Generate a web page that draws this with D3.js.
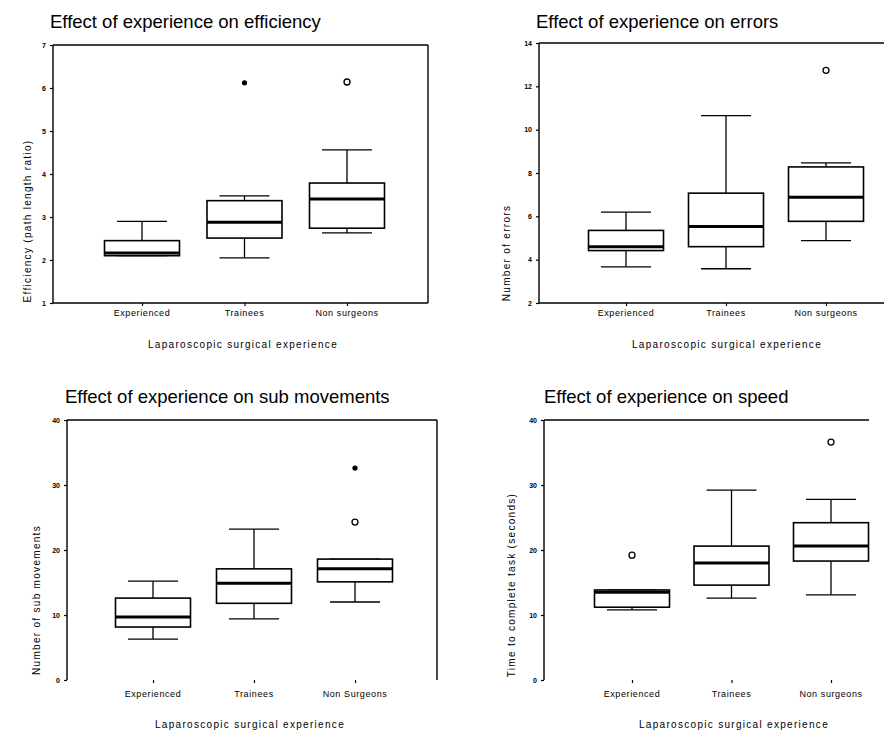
<!DOCTYPE html>
<html>
<head>
<meta charset="utf-8">
<script src="https://cdn.jsdelivr.net/npm/d3@7"></script>
<style>
  body { margin: 0; background: #fff; }
  text { font-family: "Liberation Sans", Arial, sans-serif; fill: #000; }
  .title { font-size: 18.5px; }
  .axis-title { font-size: 10px; letter-spacing: 1.3px; }
  .cat-label { font-size: 9px; letter-spacing: 0.6px; }
  .tick text { font-size: 7px; font-weight: 700; }
</style>
</head>
<body>
<script>
const categories = ['Experienced', 'Trainees', 'Non surgeons'];
const categoriesSub = ['Experienced', 'Trainees', 'Non Surgeons'];

// [lower whisker, q1, median, q3, upper whisker] per category
const efficiencyBoxes = [[2.1, 2.1, 2.16, 2.45, 2.9], [2.05, 2.51, 2.88, 3.38, 3.49], [2.63, 2.74, 3.42, 3.79, 4.56]];
const errorsBoxes = [[3.67, 4.42, 4.6, 5.35, 6.19], [3.58, 4.6, 5.53, 7.07, 10.65], [4.88, 5.77, 6.88, 8.28, 8.47]];
const subBoxes = [[6.3, 8.15, 9.7, 12.6, 15.2], [9.4, 11.8, 14.9, 17.1, 23.2], [12.0, 15.1, 17.1, 18.6, 18.6]];
const speedBoxes = [[10.8, 11.2, 13.5, 13.85, 13.85], [12.6, 14.6, 18.0, 20.6, 29.2], [13.1, 18.3, 20.6, 24.2, 27.8]];

// outliers: category index, value, kind ('o' outlier, '*' extreme)
const efficiencyOutliers = [{ cat: 1, value: 6.12, kind: '*' }, { cat: 2, value: 6.14, kind: 'o' }];
const errorsOutliers = [{ cat: 2, value: 12.74, kind: 'o' }];
const subOutliers = [{ cat: 2, value: 24.3, kind: 'o' }, { cat: 2, value: 32.6, kind: '*' }];
const speedOutliers = [{ cat: 0, value: 19.2, kind: 'o' }, { cat: 2, value: 36.6, kind: 'o' }];

const efficiencyTicks = [1, 2, 3, 4, 5, 6, 7];
const errorsTicks = [2, 4, 6, 8, 10, 12, 14];
const subTicks = [0, 10, 20, 30, 40];
const speedTicks = [0, 10, 20, 30, 40];

const xTitle = 'Laparoscopic surgical experience';

const panels = [
  {
    title: 'Effect of experience on efficiency', yTitle: 'Efficiency (path length ratio)',
    cats: categories, boxes: efficiencyBoxes, outliers: efficiencyOutliers, ticks: efficiencyTicks,
    box: { left: 53, right: 428, top: 45, bottom: 303, catStart: 142, catStep: 102.5, sides: 'ltrb' },
    titlePos: [50, 28], yTitlePos: [27, 221], xTitlePos: [243, 348], catY: 316
  },
  {
    title: 'Effect of experience on errors', yTitle: 'Number of errors',
    cats: categories, boxes: errorsBoxes, outliers: errorsOutliers, ticks: errorsTicks,
    box: { left: 539, right: 884, top: 43, bottom: 303, catStart: 626, catStep: 100, sides: 'ltb' },
    titlePos: [536, 28], yTitlePos: [506, 253], xTitlePos: [727, 348], catY: 316
  },
  {
    title: 'Effect of experience on sub movements', yTitle: 'Number of sub movements',
    cats: categoriesSub, boxes: subBoxes, outliers: subOutliers, ticks: subTicks,
    box: { left: 67, right: 437, top: 420, bottom: 680, catStart: 153, catStep: 101, sides: 'ltr' },
    titlePos: [65, 403], yTitlePos: [36, 600], xTitlePos: [250, 728], catY: 697
  },
  {
    title: 'Effect of experience on speed', yTitle: 'Time to complete task (seconds)',
    cats: categories, boxes: speedBoxes, outliers: speedOutliers, ticks: speedTicks,
    box: { left: 544, right: 869, top: 420, bottom: 680, catStart: 632, catStep: 99.5, sides: 'lt' },
    titlePos: [544, 403], yTitlePos: [511, 585], xTitlePos: [734, 728], catY: 697
  }
];

const boxWidth = 75, capWidth = 50;

const svg = d3.select('body').append('svg')
  .attr('width', 888)
  .attr('height', 731);

panels.forEach(renderPanel);

function renderPanel(p) {
  const b = p.box;
  const g = svg.append('g').attr('class', 'panel');

  const x = d3.scalePoint(p.cats, [b.catStart, b.catStart + b.catStep * (p.cats.length - 1)]);
  const y = d3.scaleLinear(d3.extent(p.ticks), [b.bottom, b.top]);

  // title
  g.append('text')
    .attr('class', 'title')
    .attr('x', p.titlePos[0])
    .attr('y', p.titlePos[1])
    .text(p.title);

  // frame
  const frame = g.append('g').attr('stroke', '#000').attr('stroke-width', 1.4);
  if (b.sides.includes('l')) frame.append('line').attr('x1', b.left).attr('x2', b.left).attr('y1', b.top).attr('y2', b.bottom);
  if (b.sides.includes('t')) frame.append('line').attr('x1', b.left).attr('x2', b.right).attr('y1', b.top).attr('y2', b.top);
  if (b.sides.includes('r')) frame.append('line').attr('x1', b.right).attr('x2', b.right).attr('y1', b.top).attr('y2', b.bottom);
  if (b.sides.includes('b')) frame.append('line').attr('x1', b.left).attr('x2', b.right).attr('y1', b.bottom).attr('y2', b.bottom);

  // y axis
  g.append('g')
    .attr('transform', `translate(${b.left}, 0)`)
    .call(d3.axisLeft(y).tickValues(p.ticks).tickFormat(d3.format('d')).tickSize(3).tickPadding(4))
    .call(a => a.select('.domain').remove())
    .call(a => a.selectAll('.tick line').attr('stroke-width', 1.2));

  // x axis ticks + category labels
  g.append('g')
    .attr('transform', `translate(0, ${b.bottom})`)
    .call(d3.axisBottom(x).tickSize(3).tickFormat(''))
    .call(a => a.select('.domain').remove())
    .call(a => a.selectAll('.tick line').attr('stroke-width', 1.2));
  g.append('g')
    .selectAll('text')
    .data(p.cats)
    .join('text')
      .attr('class', 'cat-label')
      .attr('x', d => x(d))
      .attr('y', p.catY)
      .attr('text-anchor', 'middle')
      .text(d => d);

  // axis titles
  g.append('text')
    .attr('class', 'axis-title')
    .attr('x', p.xTitlePos[0])
    .attr('y', p.xTitlePos[1])
    .attr('text-anchor', 'middle')
    .text(xTitle);
  g.append('text')
    .attr('class', 'axis-title')
    .attr('transform', `translate(${p.yTitlePos}) rotate(-90)`)
    .attr('text-anchor', 'middle')
    .attr('dy', '0.35em')
    .text(p.yTitle);

  // boxes
  const item = g.append('g')
    .selectAll('g')
    .data(p.boxes.map((s, i) => ({ cat: p.cats[i], s })))
    .join('g')
      .attr('transform', d => `translate(${x(d.cat)}, 0)`)
      .attr('stroke', '#000')
      .attr('fill', 'none');

  // whiskers
  item.append('line')
    .attr('y1', d => y(d.s[0])).attr('y2', d => y(d.s[1]))
    .attr('stroke-width', 1.3);
  item.append('line')
    .attr('y1', d => y(d.s[3])).attr('y2', d => y(d.s[4]))
    .attr('stroke-width', 1.3);
  item.append('line')
    .attr('x1', -capWidth / 2).attr('x2', capWidth / 2)
    .attr('y1', d => y(d.s[0])).attr('y2', d => y(d.s[0]))
    .attr('stroke-width', 1.3);
  item.append('line')
    .attr('x1', -capWidth / 2).attr('x2', capWidth / 2)
    .attr('y1', d => y(d.s[4])).attr('y2', d => y(d.s[4]))
    .attr('stroke-width', 1.3);

  item.append('rect')
    .attr('x', -boxWidth / 2)
    .attr('width', boxWidth)
    .attr('y', d => y(d.s[3]))
    .attr('height', d => y(d.s[1]) - y(d.s[3]))
    .attr('fill', '#fff')
    .attr('stroke-width', 1.6);

  item.append('line')
    .attr('x1', -boxWidth / 2).attr('x2', boxWidth / 2)
    .attr('y1', d => y(d.s[2])).attr('y2', d => y(d.s[2]))
    .attr('stroke-width', 3);

  // outliers
  g.append('g')
    .selectAll('circle')
    .data(p.outliers)
    .join('circle')
      .attr('cx', d => x(p.cats[d.cat]))
      .attr('cy', d => y(d.value))
      .attr('r', d => d.kind === '*' ? 2 : 3)
      .attr('fill', d => d.kind === '*' ? '#000' : '#fff')
      .attr('stroke', '#000')
      .attr('stroke-width', 1.3);
}
</script>
</body>
</html>
